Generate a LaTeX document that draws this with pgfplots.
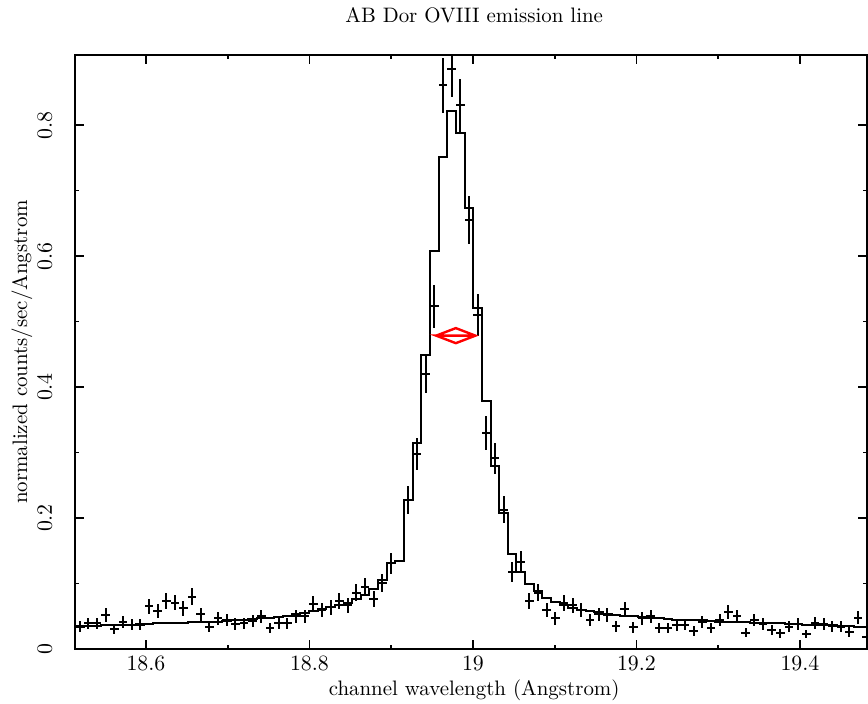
\documentclass[border=0pt]{standalone}
\usepackage{pgfplots}
\pgfplotsset{compat=1.18}
\usepackage{pgfplotstable}

% observed spectrum: bin centre, normalized rate, 1-sigma error
\pgfplotstableread{
x y ey
18.5190 0.035 0.0084
18.5296 0.039 0.0089
18.5402 0.039 0.0089
18.5507 0.052 0.0103
18.5613 0.030 0.0078
18.5719 0.041 0.0091
18.5825 0.037 0.0087
18.5931 0.037 0.0087
18.6036 0.065 0.0115
18.6142 0.058 0.0108
18.6248 0.074 0.0122
18.6354 0.071 0.0120
18.6459 0.062 0.0112
18.6565 0.080 0.0127
18.6671 0.053 0.0104
18.6777 0.034 0.0083
18.6883 0.047 0.0098
18.6988 0.044 0.0094
18.7094 0.038 0.0088
18.7200 0.039 0.0089
18.7306 0.043 0.0093
18.7412 0.050 0.0101
18.7517 0.032 0.0080
18.7623 0.039 0.0089
18.7729 0.039 0.0089
18.7835 0.050 0.0101
18.7941 0.050 0.0101
18.8046 0.069 0.0118
18.8152 0.060 0.0110
18.8258 0.064 0.0114
18.8364 0.074 0.0122
18.8469 0.067 0.0116
18.8575 0.086 0.0132
18.8681 0.095 0.0139
18.8787 0.076 0.0124
18.8893 0.101 0.0143
18.8998 0.131 0.0163
18.9210 0.228 0.0215
18.9316 0.298 0.0246
18.9422 0.420 0.0292
18.9527 0.523 0.0325
18.9633 0.861 0.0418
18.9739 0.885 0.0423
18.9845 0.830 0.0410
18.9951 0.655 0.0364
19.0056 0.510 0.0321
19.0162 0.330 0.0259
19.0268 0.291 0.0243
19.0374 0.213 0.0208
19.0479 0.117 0.0154
19.0585 0.133 0.0164
19.0691 0.073 0.0122
19.0797 0.086 0.0132
19.0903 0.060 0.0110
19.1008 0.047 0.0098
19.1114 0.070 0.0119
19.1220 0.067 0.0116
19.1326 0.060 0.0110
19.1432 0.044 0.0094
19.1537 0.053 0.0104
19.1643 0.052 0.0103
19.1749 0.035 0.0084
19.1855 0.061 0.0111
19.1961 0.033 0.0082
19.2066 0.047 0.0098
19.2172 0.050 0.0101
19.2278 0.032 0.0080
19.2384 0.032 0.0080
19.2490 0.036 0.0085
19.2595 0.037 0.0087
19.2701 0.028 0.0075
19.2807 0.042 0.0092
19.2913 0.032 0.0080
19.3018 0.044 0.0094
19.3124 0.056 0.0106
19.3230 0.050 0.0101
19.3336 0.025 0.0071
19.3442 0.044 0.0094
19.3547 0.038 0.0088
19.3653 0.029 0.0077
19.3759 0.024 0.0070
19.3865 0.034 0.0083
19.3971 0.038 0.0088
19.4076 0.023 0.0068
19.4182 0.040 0.0090
19.4288 0.038 0.0088
19.4394 0.035 0.0084
19.4500 0.034 0.0083
19.4605 0.026 0.0073
19.4711 0.048 0.0099
19.4817 0.018 0.0060
}\obsdata

% folded model, one level per bin
\pgfplotstableread{
x m
18.5000 0.034
18.5190 0.034
18.5296 0.035
18.5402 0.035
18.5507 0.036
18.5613 0.036
18.5719 0.037
18.5825 0.037
18.5931 0.038
18.6036 0.038
18.6142 0.039
18.6248 0.039
18.6354 0.040
18.6459 0.040
18.6565 0.041
18.6671 0.041
18.6777 0.042
18.6883 0.042
18.6988 0.043
18.7094 0.044
18.7200 0.045
18.7306 0.046
18.7412 0.047
18.7517 0.048
18.7623 0.049
18.7729 0.051
18.7835 0.053
18.7941 0.055
18.8046 0.058
18.8152 0.061
18.8258 0.064
18.8364 0.067
18.8469 0.071
18.8575 0.076
18.8681 0.082
18.8787 0.091
18.8893 0.105
18.8998 0.131
18.9104 0.135
18.9210 0.228
18.9316 0.314
18.9422 0.449
18.9527 0.608
18.9633 0.752
18.9739 0.822
18.9845 0.788
18.9951 0.673
19.0056 0.521
19.0162 0.378
19.0268 0.279
19.0374 0.207
19.0479 0.145
19.0585 0.117
19.0691 0.100
19.0797 0.088
19.0903 0.078
19.1008 0.072
19.1114 0.067
19.1220 0.063
19.1326 0.060
19.1432 0.058
19.1537 0.056
19.1643 0.054
19.1749 0.052
19.1855 0.051
19.1961 0.050
19.2066 0.049
19.2172 0.048
19.2278 0.047
19.2384 0.046
19.2490 0.045
19.2595 0.045
19.2701 0.044
19.2807 0.044
19.2913 0.043
19.3018 0.042
19.3124 0.042
19.3230 0.041
19.3336 0.041
19.3442 0.040
19.3547 0.040
19.3653 0.039
19.3759 0.039
19.3865 0.038
19.3971 0.038
19.4076 0.037
19.4182 0.037
19.4288 0.036
19.4394 0.036
19.4500 0.035
19.4605 0.035
19.4711 0.034
19.4817 0.034
19.5000 0.034
}\modeldata

\begin{document}
\begin{tikzpicture}[font=\fontsize{10.5}{12.6}\selectfont]
\begin{axis}[
    name=ax,
    scale only axis,
    width=396bp, height=297bp,
    xmin=18.5132, xmax=19.482,
    ymin=0, ymax=0.907,
    xtick={18.6,18.8,19,19.2,19.4},
    ytick={0,0.2,0.4,0.6,0.8},
    minor x tick num=1, minor y tick num=1,
    tick align=inside,
    major tick length=4.5bp, minor tick length=2.2bp,
    axis line style={line width=0.8bp},
    every tick/.style={black, line width=0.8bp},
    scaled ticks=false,
    yticklabel style={xshift=-8bp, rotate=90, anchor=south},
    title={AB Dor OVIII emission line},
    title style={at={(axis description cs:0.504,1)}, anchor=base, yshift=10.5bp},
    xlabel={channel wavelength (Angstrom)},
    xlabel style={at={(axis description cs:0.504,-0.0774)}, anchor=base},
    ylabel={normalized counts/sec/Angstrom},
    ylabel style={at={(axis description cs:-0.0606,0.5)}, anchor=base},
]

% data with bin-width and 1-sigma bars
\addplot[black, only marks, mark=*, mark size=0pt,
    error bars/.cd, x dir=both, x fixed=0.0053, y dir=both, y explicit,
    error mark=none, error bar style={line width=1bp}]
  table[x=x, y=y, y error=ey] {\obsdata};

% model histogram
\addplot[black, line width=1bp, const plot mark mid] table[x=x, y=m] {\modeldata};

% FWHM marker
\addplot[red, line width=1.2bp, line join=miter] coordinates {
(18.955,0.4785) (18.979,0.490) (19.003,0.4785) (18.979,0.467) (18.955,0.4785) (19.003,0.4785)
};

\end{axis}
\pgfresetboundingbox
\path[use as bounding box] ([xshift=-37.5bp,yshift=-27bp]ax.south west) rectangle ([xshift=0.5bp,yshift=27.5bp]ax.north east);
\end{tikzpicture}
\end{document}
